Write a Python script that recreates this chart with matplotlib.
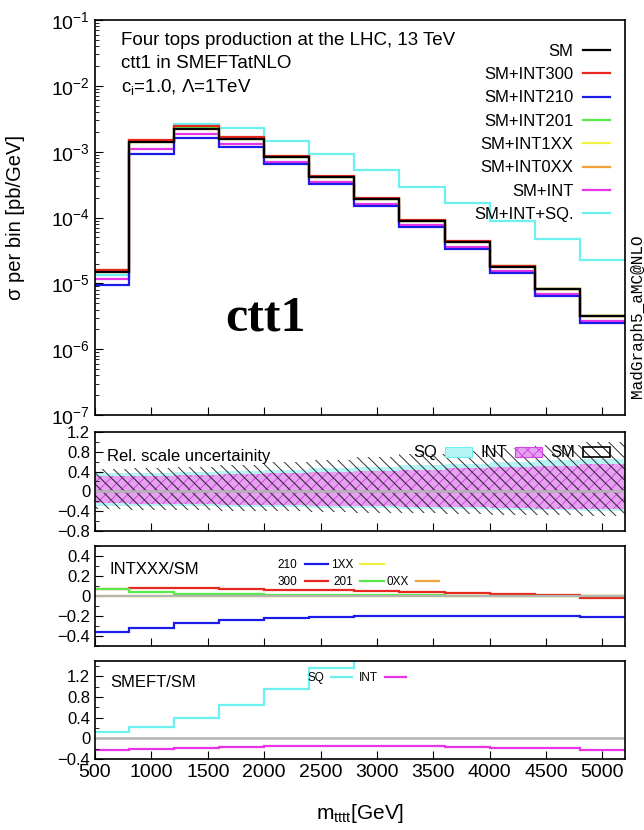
import numpy as np
import matplotlib
matplotlib.use('Agg')
import matplotlib.pyplot as plt
from matplotlib import ticker
from matplotlib.patches import Patch
from matplotlib.lines import Line2D

plt.rcParams['font.family'] = ['Liberation Sans', 'DejaVu Sans']
plt.rcParams['mathtext.fontset'] = 'custom'
plt.rcParams['mathtext.rm'] = 'Liberation Sans'
plt.rcParams['mathtext.it'] = 'Liberation Sans:italic'
plt.rcParams['mathtext.bf'] = 'Liberation Sans:bold'
plt.rcParams['hatch.linewidth'] = 0.7

#%% data
# bin edges in m_tttt [GeV]
edges = [500, 800, 1200, 1600, 2000, 2400, 2800, 3200, 3600, 4000, 4400, 4800, 5200]

# sigma per bin [pb/GeV]
sm       = [1.50e-5, 1.38e-3, 2.24e-3, 1.56e-3, 8.2e-4, 4.06e-4, 1.88e-4, 8.9e-5, 4.2e-5, 1.80e-5, 8.1e-6, 3.2e-6]
sm_int300 = [1.60e-5, 1.49e-3, 2.42e-3, 1.67e-3, 8.7e-4, 4.30e-4, 1.97e-4, 9.3e-5, 4.35e-5, 1.84e-5, 8.2e-6, 3.15e-6]
sm_int210 = [9.6e-6, 9.3e-4, 1.64e-3, 1.17e-3, 6.4e-4, 3.20e-4, 1.50e-4, 7.1e-5, 3.36e-5, 1.44e-5, 6.5e-6, 2.54e-6]
sm_int201 = [1.60e-5, 1.43e-3, 2.29e-3, 1.59e-3, 8.3e-4, 4.10e-4, 1.89e-4, 8.95e-5, 4.22e-5, 1.81e-5, 8.12e-6, 3.2e-6]
sm_int1xx = [1.50e-5, 1.38e-3, 2.24e-3, 1.56e-3, 8.2e-4, 4.06e-4, 1.88e-4, 8.9e-5, 4.2e-5, 1.80e-5, 8.1e-6, 3.2e-6]
sm_int0xx = [1.51e-5, 1.39e-3, 2.25e-3, 1.57e-3, 8.24e-4, 4.08e-4, 1.89e-4, 8.94e-5, 4.22e-5, 1.81e-5, 8.14e-6, 3.22e-6]
sm_int    = [1.16e-5, 1.09e-3, 1.85e-3, 1.31e-3, 6.95e-4, 3.50e-4, 1.63e-4, 7.6e-5, 3.55e-5, 1.52e-5, 6.8e-6, 2.65e-6]
sm_int_sq = [1.32e-5, 1.38e-3, 2.67e-3, 2.27e-3, 1.47e-3, 9.1e-4, 5.2e-4, 2.95e-4, 1.66e-4, 8.9e-5, 4.7e-5, 2.26e-5]

# relative scale uncertainty bands
sq_up  = [0.38, 0.38, 0.40, 0.42, 0.44, 0.47, 0.50, 0.53, 0.56, 0.60, 0.63, 0.66]
sq_dn  = [-0.29, -0.29, -0.30, -0.31, -0.32, -0.33, -0.34, -0.35, -0.36, -0.37, -0.38, -0.39]
int_up = [0.31, 0.32, 0.34, 0.36, 0.38, 0.40, 0.42, 0.44, 0.47, 0.50, 0.52, 0.55]
int_dn = [-0.24, -0.25, -0.26, -0.27, -0.28, -0.29, -0.30, -0.31, -0.32, -0.33, -0.35, -0.36]
sm_up  = [0.45, 0.47, 0.50, 0.54, 0.59, 0.64, 0.69, 0.75, 0.81, 0.87, 0.93, 1.00]
sm_dn  = [-0.36, -0.37, -0.38, -0.39, -0.40, -0.42, -0.43, -0.44, -0.46, -0.47, -0.48, -0.50]

# INTXXX/SM
r300 = [0.070, 0.077, 0.077, 0.070, 0.063, 0.057, 0.050, 0.043, 0.030, 0.023, 0.010, -0.017]
r210 = [-0.357, -0.323, -0.267, -0.240, -0.220, -0.207, -0.203, -0.197, -0.197, -0.197, -0.200, -0.207]
r201 = [0.070, 0.040, 0.023, 0.017, 0.012, 0.010, 0.008, 0.006, 0.005, 0.004, 0.003, 0.002]
r1xx = [0.002, 0.002, 0.002, 0.002, 0.002, 0.002, 0.002, 0.002, 0.002, 0.002, 0.002, 0.002]
r0xx = [0.005, 0.005, 0.005, 0.005, 0.005, 0.005, 0.005, 0.005, 0.005, 0.005, 0.005, 0.004]

# SMEFT/SM
ratio_sq  = [0.12, 0.23, 0.40, 0.64, 0.96, 1.37, 1.90, 2.50, 3.10, 4.10, 5.00, 6.30]
ratio_int = [-0.226, -0.213, -0.180, -0.160, -0.148, -0.148, -0.148, -0.155, -0.168, -0.180, -0.194, -0.226]

xticks = [500, 1000, 1500, 2000, 2500, 3000, 3500, 4000, 4500, 5000]

#%% style
c_sm, c_300, c_210 = 'black', '#e8281e', '#1c1ce8'
c_201, c_1xx, c_0xx = '#5ae84a', '#f2f244', '#f0a23c'
c_int, c_sq = '#e634e6', '#6cf0f0'
grey = '#b4b4b4'
band_sq, band_int, hatch_int = '#b6f4f6', '#e6a2f0', '#d048e0'

W, H = 644, 830
def box(top, bottom, left=95, right=625):
    return [left / W, (H - bottom) / H, (right - left) / W, (bottom - top) / H]

fig = plt.figure(figsize=(W / 100, H / 100), dpi=100)
ax1 = fig.add_axes(box(20, 415))
ax2 = fig.add_axes(box(432, 531))
ax3 = fig.add_axes(box(546, 646))
ax4 = fig.add_axes(box(661, 759))

def fmt(v, pos):
    s = f'{v:g}'
    if s == '-0':
        s = '0'
    return s.replace('-', '\u2212')

for ax in (ax1, ax2, ax3, ax4):
    ax.set_xlim(500, 5200)
    ax.set_xticks(xticks)
    ax.tick_params(which='both', direction='in', top=False, right=False, labelsize=14)
    ax.tick_params(which='major', length=6, width=0.8)
    ax.tick_params(which='minor', length=3, width=0.6)
    for s in ax.spines.values():
        s.set_linewidth(1.2)
for ax in (ax1, ax2, ax3):
    ax.tick_params(labelbottom=False)
for ax in (ax2, ax3, ax4):
    ax.tick_params(axis='y', labelsize=12)

#%% main panel
ax1.set_yscale('log')
ax1.set_ylim(1e-7, 1e-1)
ax1.yaxis.set_major_locator(ticker.LogLocator(base=10, numticks=10))
ax1.yaxis.set_minor_locator(ticker.LogLocator(base=10, subs=np.arange(2, 10), numticks=100))
ax1.yaxis.set_minor_formatter(ticker.NullFormatter())

lw = 1.6
h = {}
h['sq'] = ax1.stairs(sm_int_sq, edges, baseline=None, color=c_sq, lw=lw, label='SM+INT+SQ.')
h['int'] = ax1.stairs(sm_int, edges, baseline=None, color=c_int, lw=lw, label='SM+INT')
h['0xx'] = ax1.stairs(sm_int0xx, edges, baseline=None, color=c_0xx, lw=lw, label='SM+INT0XX')
h['1xx'] = ax1.stairs(sm_int1xx, edges, baseline=None, color=c_1xx, lw=lw, label='SM+INT1XX')
h['201'] = ax1.stairs(sm_int201, edges, baseline=None, color=c_201, lw=lw, label='SM+INT201')
h['210'] = ax1.stairs(sm_int210, edges, baseline=None, color=c_210, lw=lw, label='SM+INT210')
h['300'] = ax1.stairs(sm_int300, edges, baseline=None, color=c_300, lw=lw, label='SM+INT300')
h['sm'] = ax1.stairs(sm, edges, baseline=None, color=c_sm, lw=lw, label='SM')

order = ['sm', '300', '210', '201', '1xx', '0xx', 'int', 'sq']
ax1.legend([h[k] for k in order], [h[k].get_label() for k in order],
           loc='upper right', bbox_to_anchor=(0.972, 0.94), frameon=False,
           markerfirst=False, fontsize=12, handlelength=1.6, handletextpad=0.6,
           labelspacing=0.5, borderpad=0, borderaxespad=0)

ax1.set_ylabel('σ per bin [pb/GeV]', fontsize=14.5)
ax1.yaxis.set_label_coords(-0.132, 0.5)

ax1.text(0.049, 0.949, 'Four tops production at the LHC, 13 TeV', transform=ax1.transAxes,
         fontsize=13.5, va='center')
ax1.text(0.049, 0.891, 'ctt1 in SMEFTatNLO', transform=ax1.transAxes, fontsize=13.5, va='center')
ax1.text(0.049, 0.830, r'c$_{\mathrm{i}}$=1.0, Λ=1TeV', transform=ax1.transAxes,
         fontsize=13.5, va='center')
ax1.text(0.321, 0.245, 'ctt1', transform=ax1.transAxes, family='Liberation Serif',
         weight='bold', fontsize=36, ha='center', va='center')
fig.text(638 / W, (H - 316) / H, 'MadGraph5_aMC@NLO', rotation=90, family='Liberation Mono',
         fontsize=11.5, ha='center', va='center')

#%% relative scale uncertainty
ax2.set_ylim(-0.8, 1.2)
ax2.set_yticks([-0.8, -0.4, 0, 0.4, 0.8, 1.2])
ax2.yaxis.set_minor_locator(ticker.MultipleLocator(0.2))
ax2.yaxis.set_major_formatter(ticker.FuncFormatter(fmt))
ax2.stairs(sq_up, edges, baseline=sq_dn, fill=True, color=band_sq, lw=0)
ax2.stairs(int_up, edges, baseline=int_dn, fill=True, facecolor=band_int,
           edgecolor=hatch_int, hatch='xxx', lw=0)
ax2.axhline(0, color=grey, lw=1.8)
ax2.stairs(sm_up, edges, baseline=sm_dn, fill=True, facecolor='none',
           edgecolor='#303030', hatch='\\' * 3, lw=0)
band_handles = [Patch(facecolor=band_sq, edgecolor=c_sq, lw=0.8),
                Patch(facecolor=band_int, edgecolor=hatch_int, hatch='xxx', lw=0.8),
                Patch(facecolor='white', edgecolor='black', hatch='\\' * 3, lw=1.2)]
ax2.legend(band_handles, ['SQ', 'INT', 'SM'], ncol=3, loc='center right',
           bbox_to_anchor=(0.972, 0.788), frameon=False, markerfirst=False, fontsize=12,
           handlelength=1.6, handleheight=0.55, handletextpad=0.5, columnspacing=0.5,
           borderpad=0, borderaxespad=0)
ax2.text(0.023, 0.75, 'Rel. scale uncertainity', transform=ax2.transAxes, fontsize=12,
         va='center')

#%% INTXXX/SM
ax3.set_ylim(-0.5, 0.5)
ax3.set_yticks([-0.4, -0.2, 0, 0.2, 0.4])
ax3.yaxis.set_minor_locator(ticker.MultipleLocator(0.1))
ax3.yaxis.set_major_formatter(ticker.FuncFormatter(fmt))
ax3.axhline(0, color=grey, lw=1.5)
l1xx = ax3.stairs(r1xx, edges, baseline=None, color=c_1xx, lw=lw)
l0xx = ax3.stairs(r0xx, edges, baseline=None, color=c_0xx, lw=lw)
l300 = ax3.stairs(r300, edges, baseline=None, color=c_300, lw=lw)
l201 = ax3.stairs(r201, edges, baseline=None, color=c_201, lw=lw)
l210 = ax3.stairs(r210, edges, baseline=None, color=c_210, lw=lw)
blank = Line2D([], [], linestyle='none')
ax3.legend([l210, l300, l1xx, l201, blank, l0xx], ['210', '300', '1XX', '201', ' ', '0XX'],
           ncol=3, loc='upper left', bbox_to_anchor=(0.345, 0.87), frameon=False,
           markerfirst=False, fontsize=8.5, handlelength=2.0, handletextpad=0.6,
           columnspacing=0.2, labelspacing=0.4, borderpad=0, borderaxespad=0)
ax3.text(0.028, 0.77, 'INTXXX/SM', transform=ax3.transAxes, fontsize=12, va='center')

#%% SMEFT/SM
ax4.set_ylim(-0.4, 1.5)
ax4.set_yticks([-0.4, 0, 0.4, 0.8, 1.2])
ax4.yaxis.set_minor_locator(ticker.MultipleLocator(0.2))
ax4.yaxis.set_major_formatter(ticker.FuncFormatter(fmt))
ax4.axhline(0, color=grey, lw=1.8)
lsq = ax4.stairs(ratio_sq, edges, baseline=None, color=c_sq, lw=lw)
lint = ax4.stairs(ratio_int, edges, baseline=None, color=c_int, lw=lw)
ax4.legend([lsq, lint], ['SQ', 'INT'], ncol=2, loc='center left',
           bbox_to_anchor=(0.40, 0.826), frameon=False, markerfirst=False, fontsize=8.5,
           handlelength=1.8, handletextpad=0.6, columnspacing=0.6,
           borderpad=0, borderaxespad=0)
ax4.text(0.028, 0.776, 'SMEFT/SM', transform=ax4.transAxes, fontsize=12, va='center')
ax4.set_xlabel(r'm$_{\mathrm{tttt}}$[GeV]', fontsize=15)
ax4.xaxis.set_label_coords(0.5, -0.44)

fig.savefig('out.png', dpi=100)
